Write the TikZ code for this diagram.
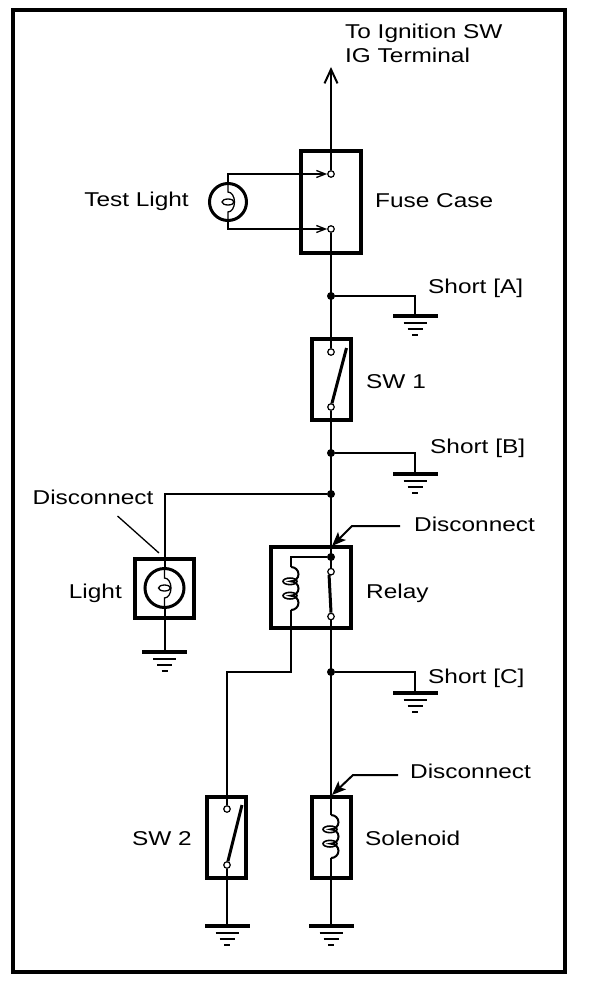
\documentclass[tikz,border=0pt]{standalone}
\usepackage{fontspec}
\setmainfont{Liberation Sans}[FakeStretch=1.22]
\usetikzlibrary{arrows.meta}
\tikzset{
  wire/.style={line width=2pt},
  thinwire/.style={line width=1.3pt},
  part/.style={draw,line width=4pt,inner sep=0pt,minimum width=39pt,minimum height=81pt},
  term/.style={circle,draw,fill=white,line width=1.2pt,inner sep=0pt,minimum size=6.5pt},
  jdot/.style={circle,fill,inner sep=0pt,minimum size=8pt},
  blade/.style={line width=3pt},
  lbl/.style={inner sep=0pt,font=\fontsize{20}{23}\selectfont},
  bulb/.style={circle,draw,line width=3pt,inner sep=0pt},
  leader/.style={line width=2pt,-{Stealth[length=14pt,width=11pt,inset=3pt]}},
  % pics are drawn with y pointing up
  gnd/.pic={
    \fill (-22.5,-1.8) rectangle (22.5,1.8);
    \draw[line width=2pt] (-11.5,-7) -- (11.5,-7) (-7.5,-13) -- (7.5,-13) (-3,-18.5) -- (3,-18.5);
  },
  coil/.pic={
    \draw[line width=2pt] (0,0) arc[start angle=90,end angle=-90,x radius=7.5,y radius=7.17]
       arc[start angle=90,end angle=-90,x radius=7.5,y radius=7.17]
       arc[start angle=90,end angle=-90,x radius=7.5,y radius=7.17];
    \draw[line width=1.6pt] (-1,-14.33) ellipse[x radius=7,y radius=3.3]
       (-1,-28.67) ellipse[x radius=7,y radius=3.3];
  },
  filament/.pic={
    \draw[thinwire] (0,18) -- (0,10) arc[start angle=90,end angle=-90,x radius=6.5,y radius=10] -- (0,-18);
    \draw[thinwire] (0,0) ellipse[x radius=6,y radius=3];
  }
}
\begin{document}
\begin{tikzpicture}[x=1pt,y=1pt,yscale=-1]
\useasboundingbox (0,0) rectangle (608,984);
\draw[line width=4pt] (13,10) rectangle (565,971.5);

% component boxes
\node[part,minimum width=60pt,minimum height=102pt] (fuse) at (330.8,202.3) {};
\node[part] (sw1) at (331.5,379.5) {};
\node[part,minimum width=80pt] (relay) at (311,587.5) {};
\node[part,minimum width=59pt,minimum height=59pt] (lbox) at (164.5,588.5) {};
\node[part] (sw2) at (226.5,837.5) {};
\node[part] (sol) at (331.5,837.5) {};

% terminals
\node[term] (f1) at (331,174) {};
\node[term] (f2) at (331,229) {};
\node[term] (s1a) at (331,352) {};
\node[term] (s1b) at (331,407) {};
\node[term] (r1) at (331,571.7) {};
\node[term] (r2) at (331,616.5) {};
\node[term] (s2a) at (227,809) {};
\node[term] (s2b) at (227,865) {};

% bulbs
\node[bulb,minimum size=37pt] (tl) at (228,202) {};
\pic at (tl.center) {filament};
\node[bulb,minimum size=39pt] (lb) at (164.5,588) {};
\pic at (lb.center) {filament};

% junctions
\node[jdot] (jA) at (331,296) {};
\node[jdot] (jB) at (331,453) {};
\node[jdot] (jL) at (331,494) {};
\node[jdot] (jR) at (331,557) {};
\node[jdot] (jC) at (331,672) {};

% coordinates
\coordinate (ign) at (331,67);
\coordinate (gA) at (415,316);
\coordinate (gB) at (415,474);
\coordinate (gC) at (415,693);
\coordinate (gL) at (164.5,652);
\coordinate (g2) at (227,926);
\coordinate (gS) at (331,926);
\coordinate (rc1) at (291,567);
\coordinate (rc2) at (291,610);
\coordinate (sc1) at (331,815);
\coordinate (sc2) at (331,858);
\coordinate (bend) at (291,672);
\coordinate (s1t) at (346.5,348);
\coordinate (s2t) at (242,805);

% wires
\draw[wire,-{Straight Barb[length=14pt,width=13pt]}] (f1) -- (ign);
\draw[wire] (f2) -- (s1a);
\draw[wire] (s1b) -- (r1);
\draw[wire] (r2) -- (sc1);
\draw[wire] (sc2) -- (gS);
\draw[wire] (jA) -| (gA);
\draw[wire] (jB) -| (gB);
\draw[wire] (jC) -| (gC);
\draw[wire] (jL) -| (lb.north);
\draw[wire] (lb.south) -- (gL);
\draw[wire] (jR) -| (rc1);
\draw[wire] (rc2) -- (bend) -| (s2a);
\draw[wire] (s2b) -- (g2);
\draw[thinwire,-{Straight Barb[length=9pt,width=7pt]}] (tl.north) |- (f1.west);
\draw[thinwire,-{Straight Barb[length=9pt,width=7pt]}] (tl.south) |- (f2.west);

% switch blades
\draw[blade] (s1b) -- (s1t);
\draw[blade] (s2b) -- (s2t);
\draw[blade] (r1.240) -- (r2.north);

% coils
\pic at (rc1) {coil};
\pic at (sc1) {coil};

% grounds
\pic at (gA) {gnd};
\pic at (gB) {gnd};
\pic at (gC) {gnd};
\pic at (gL) {gnd};
\pic at (g2) {gnd};
\pic at (gS) {gnd};

% labels
\node[lbl,anchor=base west] (tign) at (345,39) {To Ignition SW};
\node[lbl,anchor=base west] (tig2) at (345,63) {IG Terminal};
\node[lbl,anchor=base east] (ltl) at (189,207) {Test Light};
\node[lbl,anchor=base west] (lfuse) at (375,208) {Fuse Case};
\node[lbl,anchor=base west] (lsA) at (428,293) {Short [A]};
\node[lbl,anchor=base west] (lsw1) at (366,388) {SW 1};
\node[lbl,anchor=base west] (lsB) at (430,453) {Short [B]};
\node[lbl,anchor=base west] (dL) at (32.5,504) {Disconnect};
\node[lbl,anchor=base west] (dR) at (414,531) {Disconnect};
\node[lbl,anchor=base east] (llight) at (122,598) {Light};
\node[lbl,anchor=base west] (lrelay) at (366,598) {Relay};
\node[lbl,anchor=base west] (lsC) at (428,683) {Short [C]};
\node[lbl,anchor=base west] (dS) at (410,778) {Disconnect};
\node[lbl,anchor=base east] (lsw2) at (192,845) {SW 2};
\node[lbl,anchor=base west] (lsol) at (365,845) {Solenoid};

% leaders
\coordinate (dLa) at (117.5,516);
\coordinate (dLb) at (159,553);
\draw[thinwire] (dLa) -- (dLb);
\coordinate (dRa) at (400,526);
\coordinate (dRb) at (352,526);
\coordinate (dRc) at (332,546);
\draw[leader] (dRa) -- (dRb) -- (dRc);
\coordinate (dSa) at (398,775);
\coordinate (dSb) at (353,775);
\coordinate (dSc) at (332,795);
\draw[leader] (dSa) -- (dSb) -- (dSc);
\end{tikzpicture}
\end{document}
